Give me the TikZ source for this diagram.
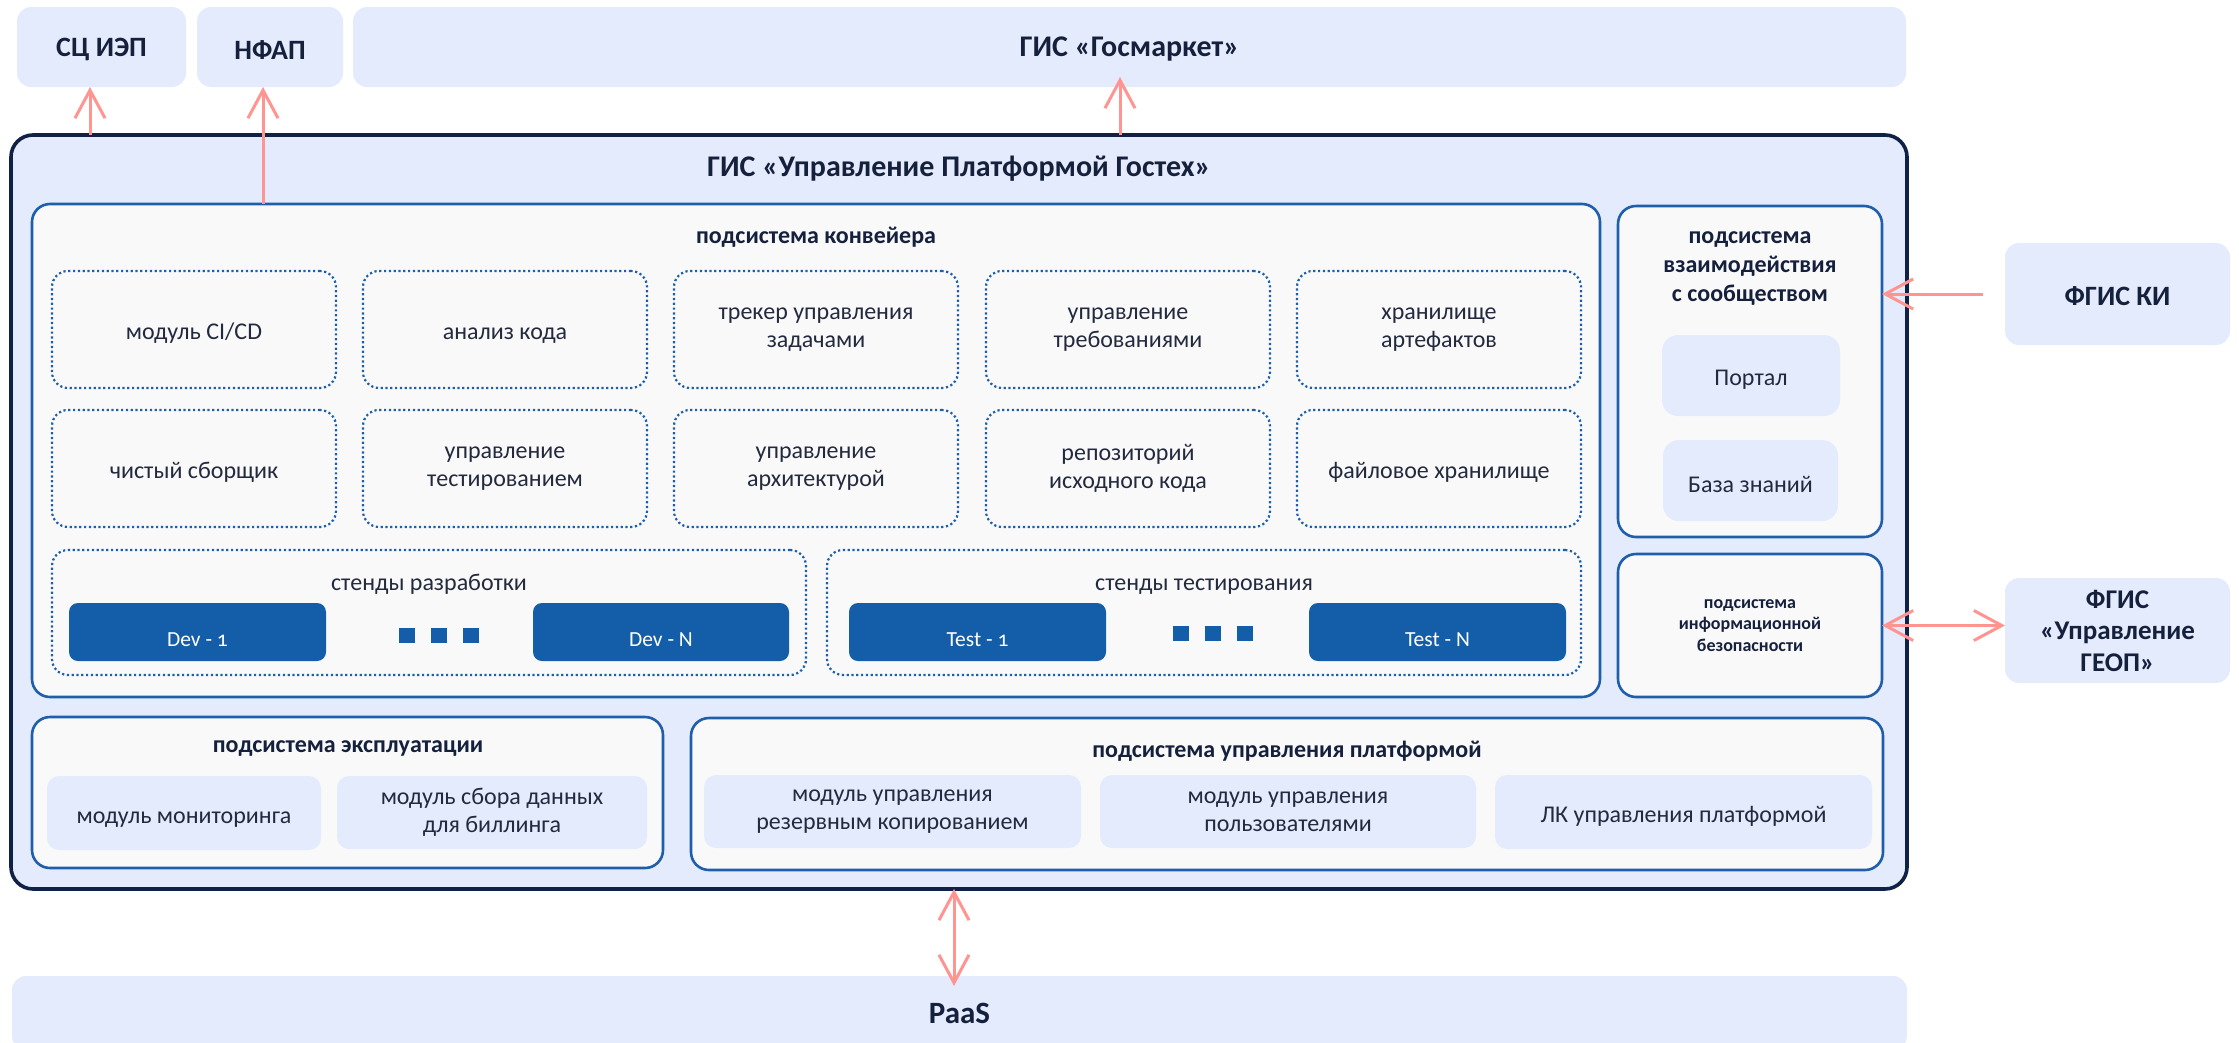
\documentclass[tikz,border=0pt]{standalone}
\usepackage{fontspec}
\setmainfont{Carlito}
\newfontfamily\onumfont[Numbers=OldStyle]{Carlito}
\usetikzlibrary{arrows.meta}
\definecolor{lb}{HTML}{E4EBFC}
\definecolor{subfill}{HTML}{F9F9FA}
\definecolor{blu}{HTML}{1E5EAA}
\definecolor{navy}{HTML}{0F2246}
\definecolor{devblue}{HTML}{145EA9}
\definecolor{txtb}{HTML}{15203C}
\definecolor{txtr}{HTML}{232A3E}
\definecolor{salmon}{HTML}{FF9490}
\begin{document}
\begin{tikzpicture}[x=1pt,y=-1pt,
  every node/.style={inner sep=0pt,outer sep=0pt},
  area/.style n args={4}{minimum width={(#3)-(#1)},minimum height={(#4)-(#2)},at={({((#1)+(#3))/2},{((#2)+(#4))/2})}},
  lightbox/.style={fill=lb,rounded corners=14pt},
  mainbox/.style={fill=lb,draw=navy,line width=3.6pt,rounded corners=22pt},
  subbox/.style={fill=subfill,draw=blu,line width=2.6pt,rounded corners=18pt},
  modbox/.style={draw=blu,line width=2.2pt,dash pattern=on 2.2pt off 2.6pt,rounded corners=16pt},
  standbox/.style={fill=devblue,rounded corners=9pt},
  dotbox/.style={fill=devblue,minimum width=16pt,minimum height=15pt},
  innerbox/.style={fill=lb,rounded corners=16pt},
  smallbox/.style={fill=lb,rounded corners=12pt},
  lowtext/.style={execute at begin node={\rule{0pt}{#1}}},
  topT/.style={font=\bfseries\fontsize{28pt}{32pt}\selectfont,text=txtb,align=center},
  bigT/.style={font=\bfseries\fontsize{30pt}{34pt}\selectfont,text=txtb,align=center},
  geopT/.style={font=\bfseries\fontsize{27pt}{31.5pt}\selectfont,text=txtb,align=center},
  subT/.style={font=\bfseries\fontsize{24pt}{29pt}\selectfont,text=txtb,align=center},
  secT/.style={font=\bfseries\fontsize{18pt}{21.5pt}\selectfont,text=txtb,align=center},
  modT/.style={font=\fontsize{24pt}{28pt}\selectfont,text=txtr,align=center,lowtext=24pt},
  devT/.style={font=\onumfont\fontsize{21.5pt}{24pt}\selectfont,text=white},
  arr/.style={draw=salmon,line width=3pt,-{Straight Barb[length=28pt,width=30pt]}},
  arrb/.style={draw=salmon,line width=3pt,{Straight Barb[length=28pt,width=30pt]}-{Straight Barb[length=28pt,width=30pt]}}
]
\useasboundingbox (0,0) rectangle (2239,1042);
% top systems
\node[lightbox,area={17}{7}{186}{87},topT,lowtext=24pt] (sc) {СЦ ИЭП};
\node[lightbox,area={197}{7}{343}{87},topT,lowtext=24pt] (nfap) {НФАП};
\node[lightbox,area={353}{7}{1906}{87},bigT,lowtext=24pt] (gm) {ГИС «Госмаркет»};
% main system
\node[mainbox,area={11}{135}{1907}{889}] (main) {};
\node[bigT] (maintitle) at (959,169) {ГИС «Управление Платформой Гостех»};
% conveyor subsystem
\node[subbox,area={32}{204}{1600}{697}] (conv) {};
\node[subT] (convtitle) at (816,237) {подсистема конвейера};
% modules row 1
\node[modbox,area={52}{271}{336}{388},modT] (m11) {модуль CI/CD};
\node[modbox,area={363}{271}{647}{388},modT] (m12) {анализ кода};
\node[modbox,area={674}{271}{958}{388},modT] (m13) {трекер управления\\задачами};
\node[modbox,area={986}{271}{1270}{388},modT] (m14) {управление\\требованиями};
\node[modbox,area={1297}{271}{1581}{388},modT] (m15) {хранилище\\артефактов};
% modules row 2
\node[modbox,area={52}{410}{336}{527},modT] (m21) {чистый сборщик};
\node[modbox,area={363}{410}{647}{527},modT] (m22) {управление\\тестированием};
\node[modbox,area={674}{410}{958}{527},modT] (m23) {управление\\архитектурой};
\node[modbox,area={986}{410}{1270}{527},modT] (m24) {репозиторий\\исходного кода};
\node[modbox,area={1297}{410}{1581}{527},modT] (m25) {файловое хранилище};
% stands
\node[modbox,area={52}{550}{806}{675}] (devst) {};
\node[modT,lowtext=0pt] (devsttitle) at (429,580) {стенды разработки};
\node[modbox,area={827}{550}{1581}{675}] (testst) {};
\node[modT,lowtext=0pt] (teststtitle) at (1204,580) {стенды тестирования};
\node[standbox,area={69}{603}{326}{661},label={[devT,yshift=-8pt]center:Dev - 1}] (dev1) {};
\node[standbox,area={533}{603}{789}{661},label={[devT,yshift=-8pt]center:Dev - N}] (devn) {};
\node[dotbox] (dd1) at (407,635.5) {};
\node[dotbox] (dd2) at (439,635.5) {};
\node[dotbox] (dd3) at (471,635.5) {};
\node[standbox,area={849}{603}{1106}{661},label={[devT,yshift=-8pt]center:Test - 1}] (test1) {};
\node[standbox,area={1309}{603}{1566}{661},label={[devT,yshift=-8pt]center:Test - N}] (testn) {};
\node[dotbox] (td1) at (1181,633.5) {};
\node[dotbox] (td2) at (1213,633.5) {};
\node[dotbox] (td3) at (1245,633.5) {};
% community subsystem
\node[subbox,area={1618}{206}{1882}{537}] (comm) {};
\node[subT] (commtitle) at (1750,268) {подсистема\\взаимодействия\\с сообществом};
\node[innerbox,area={1662}{335}{1840}{416},modT] (portal) {Портал};
\node[innerbox,area={1663}{440}{1838}{521},modT] (kb) {База знаний};
% security subsystem
\node[subbox,area={1618}{554}{1882}{697},secT] (sec) {подсистема\\информационной\\безопасности};
% external systems right
\node[lightbox,area={2005}{243}{2230}{345},topT,lowtext=24pt] (fki) {ФГИС КИ};
\node[lightbox,area={2005}{578}{2230}{683},geopT] (geop) {ФГИС\\«Управление\\ГЕОП»};
% exploitation subsystem
\node[subbox,area={32}{717}{663}{868}] (expl) {};
\node[subT] (expltitle) at (348,748) {подсистема эксплуатации};
\node[smallbox,area={47}{776}{321}{850},modT] (mon) {модуль мониторинга};
\node[smallbox,area={337}{776}{647}{849},modT] (bill) {модуль сбора данных\\для биллинга};
% platform management subsystem
\node[subbox,area={691}{718}{1883}{870}] (plat) {};
\node[subT] (plattitle) at (1287,751) {подсистема управления платформой};
\node[smallbox,area={704}{775}{1081}{848},modT] (bak) {модуль управления\\резервным копированием};
\node[smallbox,area={1100}{775}{1476}{848},modT] (usr) {модуль управления\\пользователями};
\node[smallbox,area={1495}{775}{1872}{849},modT] (lk) {ЛК управления платформой};
% PaaS
\node[lightbox,area={12}{976}{1907}{1050},font=\bfseries\fontsize{31pt}{35pt}\selectfont,text=txtb] (paas) {PaaS};
% arrows
\coordinate (ax1) at (90,0);
\coordinate (ax2) at (263,0);
\coordinate (ax3) at (1120,0);
\coordinate (ax4) at (954,0);
\draw[arr] (ax1 |- main.north) -- (ax1 |- sc.south);
\draw[arr] (ax2 |- conv.north) -- (ax2 |- nfap.south);
\draw[arr] (ax3 |- main.north) -- ([yshift=10pt]ax3 |- gm.south);
\draw[arrb] (ax4 |- main.south) -- ([yshift=-10pt]ax4 |- paas.north);
\draw[arr] ([xshift=-22pt]fki.west) -- (comm.east |- fki.west);
\draw[arrb] (sec.east) -- (geop.west |- sec.east);
\end{tikzpicture}
\end{document}
